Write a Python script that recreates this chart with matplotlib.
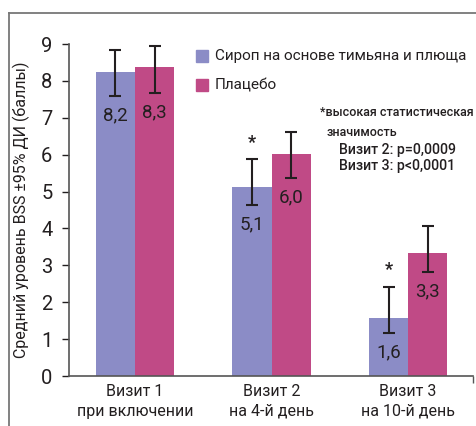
import numpy as np
import matplotlib
matplotlib.use('Agg')
import matplotlib.pyplot as plt
from matplotlib.lines import Line2D

plt.rcParams['font.family'] = ['Roboto', 'DejaVu Sans']

# data
visits = ['Визит 1\nпри включении', 'Визит 2\nна 4-й день', 'Визит 3\nна 10-й день']
series = ['Сироп на основе тимьяна и плюща', 'Плацебо']
syrup = [8.24, 5.12, 1.56]
placebo = [8.37, 6.02, 3.33]
syrup_lo = [7.60, 4.63, 1.17]
syrup_hi = [8.85, 5.88, 2.42]
placebo_lo = [7.68, 5.37, 2.83]
placebo_hi = [8.95, 6.62, 4.07]
syrup_lbl = ['8,2', '5,1', '1,6']
placebo_lbl = ['8,3', '6,0', '3,3']
signif = [False, True, True]

c_blue = '#8b8cc6'
c_pink = '#c04a86'
c_txt = '#231f20'
c_ax = '#555555'

fig = plt.figure(figsize=(4.77, 4.26), dpi=100)
ax = fig.add_axes([69/477, 50/426, 404/477, 332/426])

x = np.arange(len(visits))
w = 0.286

for vals, lo, hi, lbls, col, off in [(syrup, syrup_lo, syrup_hi, syrup_lbl, c_blue, -w/2),
                                     (placebo, placebo_lo, placebo_hi, placebo_lbl, c_pink, w/2)]:
    ax.bar(x + off, vals, width=w, color=col, zorder=2)
    v = np.array(vals)
    err = [v - np.array(lo), np.array(hi) - v]
    ax.errorbar(x + off, v, yerr=err, fmt='none', ecolor=c_txt, elinewidth=1.5,
                capsize=4.5, capthick=1.5, zorder=3)
    for xi, l, t in zip(x + off, lo, lbls):
        ax.text(xi, l - 0.28, t, ha='center', va='top', fontsize=13.5, color=c_txt, zorder=4)

for xi, h, s in zip(x - w/2, syrup_hi, signif):
    if s:
        ax.text(xi, h + 0.2, '*', ha='center', va='bottom', fontsize=13,
                fontweight='bold', color=c_txt)

ax.set_xlim(-0.4835, 2.476)
ax.set_ylim(0, 9)
ax.set_yticks(range(0, 10))
ax.tick_params(axis='y', labelsize=14.5, colors=c_txt, length=5, width=1, direction='out', pad=7)
ax.set_xticks(x)
ax.set_xticklabels(visits, fontsize=11.5, color=c_txt, linespacing=1.35)
ax.tick_params(axis='x', length=0, pad=6)
ax.set_xticks([2.476], minor=True)
ax.tick_params(axis='x', which='minor', length=5, width=1, color=c_ax)
for t in ax.yaxis.get_ticklines():
    t.set_color(c_ax)
for s in ['top', 'right']:
    ax.spines[s].set_visible(False)
for s in ['left', 'bottom']:
    ax.spines[s].set_color(c_ax)
    ax.spines[s].set_linewidth(1.2)

ax.set_ylabel('Средний уровень BSS ±95% ДИ (баллы)', fontsize=11.5, color=c_txt, labelpad=8)

# legend
for i, (name, col) in enumerate(zip(series, [c_blue, c_pink])):
    yy = 56 + i * 29
    fig.patches.append(plt.Rectangle((196/477, 1 - (yy + 6)/426), 12/477, 12/426,
                                     transform=fig.transFigure, color=col))
    fig.text(215/477, 1 - yy/426, name, fontsize=11, color=c_txt, va='center', ha='left')

fig.text(320/477, 1 - 113/426, '*высокая статистическая', fontsize=9, fontweight='medium',
         color=c_txt, va='center')
fig.text(327/477, 1 - 132/426, 'значимость', fontsize=9, fontweight='medium',
         color=c_txt, va='center')
fig.text(339/477, 1 - 150/426, 'Визит 2: p=0,0009', fontsize=10.2, fontweight='medium',
         color=c_txt, va='center')
fig.text(339/477, 1 - 166/426, 'Визит 3: p<0,0001', fontsize=10.2, fontweight='medium',
         color=c_txt, va='center')

# outer frame
fig.add_artist(Line2D([9/477, 9/477], [0, 1 - 13/426], color='#777777', lw=1.3))
fig.add_artist(Line2D([9/477, 1], [1 - 13/426, 1 - 13/426], color='#777777', lw=1.3))

fig.savefig('out.png', dpi=100)
